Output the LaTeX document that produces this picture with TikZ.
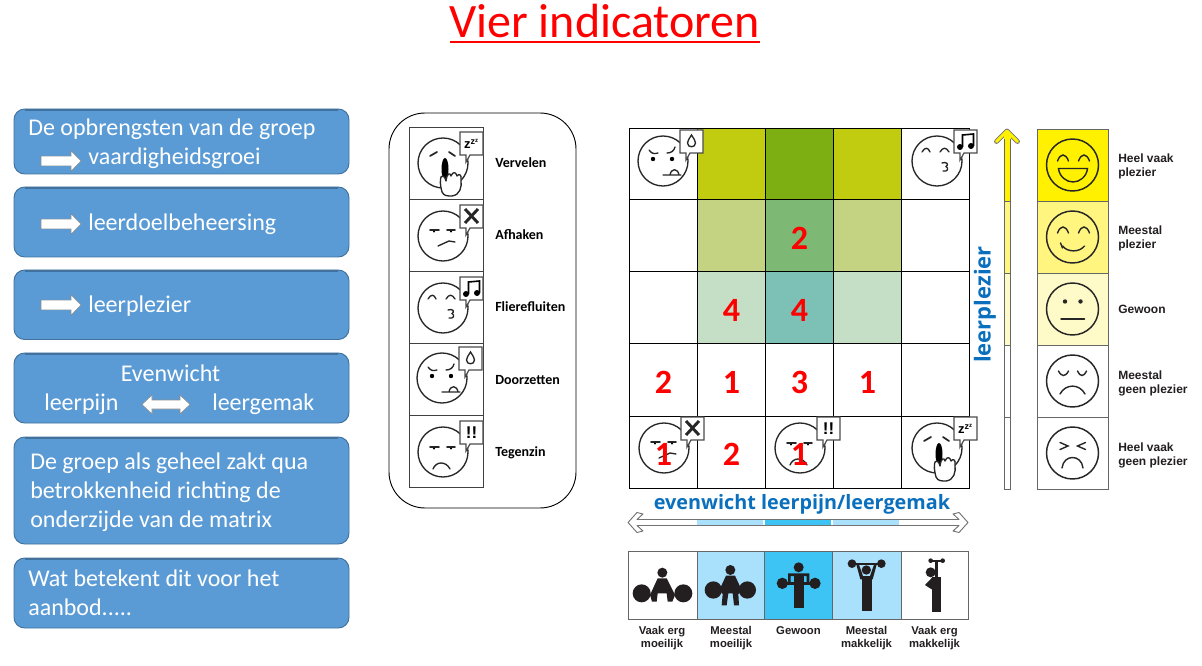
\documentclass[tikz,border=0pt]{standalone}
\usepackage{fontspec}
\setmainfont{Carlito}
\newfontfamily\arialf{Liberation Sans}
\newfontfamily\opensf{Open Sans}
\newcommand{\fpx}[1]{\fontsize{\dimexpr #1pt*3/4\relax}{\dimexpr #1pt\relax}\selectfont}
\definecolor{boxblue}{HTML}{5B9BD5}
\definecolor{boxedge}{HTML}{41719C}
\definecolor{olive}{HTML}{C1CB10}
\definecolor{midgreen}{HTML}{7DAE12}
\definecolor{paleolive}{HTML}{C4D381}
\definecolor{softgreen}{HTML}{7DB875}
\definecolor{palegreen}{HTML}{C5DEC6}
\definecolor{teal2}{HTML}{7DC1B6}
\definecolor{lightblue}{HTML}{A9E0FB}
\definecolor{strongblue}{HTML}{3EC4F4}
\definecolor{yel1}{HTML}{FFF100}
\definecolor{yel2}{HTML}{FFF57F}
\definecolor{yel3}{HTML}{FFFBC8}
\definecolor{headblue}{HTML}{0A70BE}
\definecolor{inkc}{HTML}{231F20}
\tikzset{
  x=0.75pt,y=-0.75pt,
  bluebox/.style={fill=boxblue,draw=boxedge,line width=0.7pt,rounded corners=8pt},
  ltext/.style={anchor=base west,inner sep=0pt,text=white,font=\fpx{24}},
  ctext/.style={anchor=base,inner sep=0pt,text=white,font=\fpx{24}},
  num/.style={inner sep=0pt,text=red,font=\fpx{34}\bfseries},
  emolabel/.style={anchor=base west,inner sep=0pt,font=\fpx{14}\bfseries},
  scalelabel/.style={anchor=base west,inner sep=0pt,align=left,text=inkc,font=\arialf\fpx{12}\bfseries},
  barlabel/.style={anchor=base,inner sep=0pt,text=inkc,font=\arialf\fpx{11.3}\bfseries},
  gridline/.style={draw=black,line width=0.75pt},
  facel/.style={draw=black!85,line width=1pt},
  sm/.style={draw=black!85,line width=1pt,line cap=round},
  scaleedge/.style={draw=black!60,line width=0.7pt},
  pics/whitearrow/.style={code={
    \draw[fill=white,draw=black!45,line width=0.4pt] (0,-4.8)--(30,-4.8)--(30,-10.2)--(40,0)--(30,10.2)--(30,4.8)--(0,4.8)--cycle;}},
  pics/face/.style={code={\draw[facel,fill=white] (0,0) circle (25);}},
  pics/bubble/.style={code={
    \draw[draw=black!70,fill=white,line width=0.9pt] (17,-31)--(40,-31)--(40,-8)--(27,-8)--(23,-1)--(23,-8)--(17,-8)--cycle;}},
  pics/vervelen/.style={code={
    \pic {face};
    \draw[sm,line width=1.3pt] (-13,-7)--(-6,-11) (6,-11)--(12,-7);
    \fill[black] (2,6) ellipse (3.5 and 11);
    \draw[sm,fill=white,line join=round] (-1,29) .. controls (-3,22) and (-3,17) .. (-2,14) .. controls (0,12) and (2,14) .. (3,18) .. controls (4,10) and (7,9) .. (8,13) .. controls (10,8) and (13,9) .. (14,13) .. controls (16,10) and (19,12) .. (18,17) .. controls (19,24) and (17,32) .. (9,33) .. controls (4,33) and (1,33) .. (-1,29) -- cycle;
    \pic {bubble};
    \node[inner sep=0pt,font=\arialf\fpx{13}\bfseries] (zz) at (28,-19) {z\raisebox{3pt}{\fpx{9}z}\raisebox{5pt}{\fpx{6}z}};
  }},
  pics/afhaken/.style={code={
    \pic {face};
    \draw[sm,line width=1.2pt] (-13,-6)--(-4,-6) (4,-6)--(12,-6);
    \fill (-9,-4.5) circle (1.2) (8,-4.5) circle (1.2);
    \draw[sm] (-5,10)--(6,5)--(12,6);
    \pic {bubble};
    \draw[line width=2.2pt,black!85] (22,-27)--(35,-13) (35,-27)--(22,-13);
  }},
  pics/fluiten/.style={code={
    \pic {face};
    \draw[sm] (-15,-9) .. controls (-12,-14) and (-9,-14) .. (-7,-9);
    \draw[sm] (3,-9) .. controls (6,-14) and (9,-14) .. (12,-9);
    \draw[sm] (5,2) .. controls (10,0) and (12,4) .. (9,5.5) .. controls (12,7) and (11,11) .. (6,10);
    \pic {bubble};
    \fill (23,-14) circle (3) (34,-15) circle (3);
    \draw[line width=1.2pt] (25.5,-14)--(25.5,-26)--(36.5,-27)--(36.5,-15);
  }},
  pics/doorzetten/.style={code={
    \pic {face};
    \draw[sm] (-14,-11) .. controls (-11,-7) and (-9,-7) .. (-5,-8);
    \draw[sm] (4,-8) .. controls (8,-8) and (11,-10) .. (12,-14);
    \fill (-10,-2) circle (2.2) (9,-2) circle (2.2);
    \draw[sm] (0,14)--(18,14) (7,14) .. controls (8,7) and (15,7) .. (16,14);
    \pic {bubble};
    \draw[sm,line width=1pt] (28.5,-26) .. controls (26,-22) and (24.5,-20) .. (24.5,-18) .. controls (24.5,-13) and (32.5,-13) .. (32.5,-18) .. controls (32.5,-20) and (31,-22) .. (28.5,-26) -- cycle;
  }},
  pics/tegenzin/.style={code={
    \pic {face};
    \draw[sm,line width=1.2pt] (-13,-5)--(-4,-5) (4,-5)--(12,-5);
    \fill (-9,-3.5) circle (1.2) (8,-3.5) circle (1.2);
    \draw[sm] (-10,17) .. controls (-7,9) and (3,9) .. (7,17);
    \pic {bubble};
    \node[inner sep=0pt,font=\arialf\fpx{17}\bfseries] (ex) at (28.5,-19.5) {!!};
  }},
  pics/bigface/.style={code={\draw[facel,line width=1.1pt] (0,0) circle (26);}},
  pics/arceyes/.style={code={
    \draw[sm,line width=1.05pt] (-15,-4) .. controls (-12,-12) and (-7,-12) .. (-4,-4);
    \draw[sm,line width=1.05pt] (6,-4) .. controls (9,-12) and (14,-12) .. (17,-4);
  }}
}
\begin{document}
\begin{tikzpicture}
\useasboundingbox (0,0) rectangle (1202,666);
\fill[white] (0,0) rectangle (1202,666);

% title
\node[anchor=base,inner sep=0pt,text=red,font=\fpx{48}] (title) at (604.5,37.5) {Vier indicatoren};
\draw[draw=red,line width=1.5pt] (450,42)--(760,42);

% left boxes
\draw[bluebox] (14,109) rectangle (349,174);
\draw[bluebox] (14,187) rectangle (349,257);
\draw[bluebox] (14,270) rectangle (349,339.5);
\draw[bluebox] (14,353) rectangle (349,423);
\draw[bluebox] (14,437) rectangle (349,544);
\draw[bluebox] (14,558) rectangle (349,628);
\foreach \yy in {109,187,270,353,437,558}
  \draw[boxedge,line width=1.2pt] (25,\yy+1.2)--(338,\yy+1.2);

\node[ltext] (b1a) at (28,135.5) {De opbrengsten van de groep};
\node[ltext] (b1b) at (88,164.5) {vaardigheidsgroei};
\pic at (41,161) {whitearrow};
\node[ltext] (b2) at (88,230.5) {leerdoelbeheersing};
\pic at (41,224) {whitearrow};
\node[ltext] (b3) at (88,312.5) {leerplezier};
\pic at (41,305) {whitearrow};
\node[ctext] (b4a) at (170.5,381) {Evenwicht};
\node[ltext] (b4b) at (44,410) {leerpijn};
\node[ltext] (b4c) at (212,410) {leergemak};
\draw[fill=white,draw=black!45,line width=0.4pt] (142,404.5)--(152,395)--(152,400)--(180,400)--(180,395)--(190,404.5)--(180,414)--(180,409)--(152,409)--(152,414)--cycle;
\node[ltext] (b5a) at (30,469) {De groep als geheel zakt qua};
\node[ltext] (b5b) at (30,498) {betrokkenheid richting de};
\node[ltext] (b5c) at (30,527) {onderzijde van de matrix};
\node[ltext] (b6a) at (28,586) {Wat betekent dit voor het};
\node[ltext] (b6b) at (28,615) {aanbod.....};

% legend
\draw[black,line width=0.7pt,rounded corners=27pt] (389,113) rectangle (576,508);
\foreach \a/\b in {127/199,199/271,271/343,343/415,415/487}
  \draw[black!75,line width=0.7pt] (409,\a) rectangle (483.5,\b);
\pic at (443,163) {vervelen};
\pic at (443,236) {afhaken};
\pic at (443,308) {fluiten};
\pic at (442,378) {doorzetten};
\pic at (443,452) {tegenzin};
\node[emolabel] (l1) at (495,168) {Vervelen};
\node[emolabel] (l2) at (495,240) {Afhaken};
\node[emolabel] (l3) at (495,312) {Flierefluiten};
\node[emolabel] (l4) at (495,384) {Doorzetten};
\node[emolabel] (l5) at (495,456) {Tegenzin};

% matrix
\fill[olive] (697,128.5) rectangle (765,200);
\fill[midgreen] (765,128.5) rectangle (833,200);
\fill[olive] (833,128.5) rectangle (901,200);
\fill[paleolive] (697,200) rectangle (765,272);
\fill[softgreen] (765,200) rectangle (833,272);
\fill[paleolive] (833,200) rectangle (901,272);
\fill[palegreen] (697,272) rectangle (765,344);
\fill[teal2] (765,272) rectangle (833,344);
\fill[palegreen] (833,272) rectangle (901,344);
\foreach \xx in {629,697,765,833,901,969}
  \draw[gridline] (\xx,128.5)--(\xx,488.5);
\foreach \yy in {128.5,200,272,344,416,488.5}
  \draw[gridline] (629,\yy)--(969,\yy);
\pic at (663,161) {doorzetten};
\pic at (937,161) {fluiten};
\pic at (664,448) {afhaken};
\pic at (800,448) {tegenzin};
\pic at (937,448) {vervelen};
\node[num] (n1) at (799.5,238) {2};
\node[num] (n2) at (731.5,310) {4};
\node[num] (n3) at (799.5,310) {4};
\node[num] (n4) at (663.5,382) {2};
\node[num] (n5) at (731.5,382) {1};
\node[num] (n6) at (799.5,382) {3};
\node[num] (n7) at (867.5,382) {1};
\node[num] (n8) at (663.5,454) {1};
\node[num] (n9) at (731.5,454) {2};
\node[num] (n10) at (799.5,454) {1};

% horizontal scale
\node[anchor=base,inner sep=0pt,text=headblue,font=\opensf\fpx{19.8}\bfseries] (hs) at (802,509) {evenwicht leerpijn/leergemak};
\draw[draw=black!55,fill=white,line width=0.7pt,line join=round] (628,522.5)--(637,512.5)--(643,514)--(637,519.5)--(959,519.5)--(953,514)--(959,512.5)--(968,522.5)--(959,532.5)--(953,531)--(959,525.5)--(637,525.5)--(643,531)--(637,532.5)--cycle;
\fill[lightblue] (697,520)rectangle(763,525);
\fill[strongblue] (765,520)rectangle(831,525);
\fill[lightblue] (833,520)rectangle(899,525);

% effort boxes
\fill[lightblue] (697,551) rectangle (764.5,619);
\fill[strongblue] (764.5,551) rectangle (832.5,619);
\fill[lightblue] (832.5,551) rectangle (901,619);
\foreach \a/\b in {628/697,697/764.5,764.5/832.5,832.5/901,901/968.5}
  \draw[scaleedge] (\a,551) rectangle (\b,619);
\begin{scope}[shift={(620,490)},x=0.25pt,y=-0.25pt,fill=inkc]
  % figure 1
  \fill (127,248) circle (15) (65,310) circle (27) (190,310) circle (27);
  \fill (113,265)--(140,265)--(165,315)--(157,335)--(143,335)--(140,310)--(113,310)--(110,335)--(96,335)--(90,315)--cycle;
  % figure 2
  \fill (331,240) circle (15) (280,300) circle (26) (382,300) circle (26);
  \fill (318,257)--(345,257)--(365,300)--(355,312)--(357,346)--(342,346)--(338,310)--(325,310)--(320,346)--(305,346)--(308,312)--(298,300)--cycle;
  % figure 3
  \fill (536,232) circle (15) (487,280) circle (17) (585,280) circle (17);
  \fill (487,276) rectangle (585,284);
  \fill (521,252) rectangle (551,353);
  \fill (504,250) rectangle (568,258) (504,250) rectangle (512,280) (560,250) rectangle (568,280);
  % figure 4
  \fill (739,240) circle (14) (696,221) circle (13) (784,221) circle (13);
  \fill (696,218) rectangle (784,225);
  \fill (727,262) rectangle (756,362);
  \fill (709,224)--(717,224)--(729,258)--(750,258)--(762,224)--(770,224)--(758,268)--(721,268)--cycle;
  % figure 5
  \fill (932,247) circle (15) (932,212) circle (7) (968,212) circle (7);
  \fill (930,210) rectangle (970,215);
  \fill (946,212) rectangle (954,262);
  \fill (937,262) rectangle (963,365);
  \fill (915,285)--(937,262)--(945,262)--(945,300)--(935,298)--cycle;
\end{scope}
\node[barlabel] (c1a) at (662,634.5) {Vaak erg};
\node[barlabel] (c1b) at (662,647.5) {moeilijk};
\node[barlabel] (c2a) at (731,634.5) {Meestal};
\node[barlabel] (c2b) at (731,647.5) {moeilijk};
\node[barlabel] (c3a) at (798.5,634.5) {Gewoon};
\node[barlabel] (c4a) at (866.5,634.5) {Meestal};
\node[barlabel] (c4b) at (866.5,647.5) {makkelijk};
\node[barlabel] (c5a) at (934.5,634.5) {Vaak erg};
\node[barlabel] (c5b) at (934.5,647.5) {makkelijk};

% vertical scale
\node[inner sep=0pt,rotate=90,text=headblue,font=\opensf\fpx{22}\bfseries] (vs) at (985,304.5) {leerplezier};
\draw[line cap=round,line join=round,draw=black!55,line width=3.6pt] (996.5,141.5)--(1007,131)--(1017.5,141.5);
\draw[line cap=round,line join=round,draw=yel1,line width=2.3pt] (996.5,141.5)--(1007,131)--(1017.5,141.5);
\fill[yel1] (1004,133) rectangle (1010.5,201);
\fill[yel2] (1004,201) rectangle (1010.5,273);
\fill[yel3] (1004,273) rectangle (1010.5,345);
\draw[scaleedge] (1004,139)--(1004,489)--(1010.5,489)--(1010.5,139);
\draw[scaleedge] (1004,201)--(1010.5,201) (1004,273)--(1010.5,273) (1004,345)--(1010.5,345) (1004,417)--(1010.5,417);

% plezier boxes
\fill[yel1] (1037,129.5) rectangle (1108.5,201);
\fill[yel2] (1037,201) rectangle (1108.5,273.5);
\fill[yel3] (1037,273.5) rectangle (1108.5,345.5);
\foreach \a/\b in {129.5/201,201/273.5,273.5/345.5,345.5/417.5,417.5/489}
  \draw[scaleedge] (1037,\a) rectangle (1108.5,\b);
\begin{scope}[shift={(1072.5,165)}]
  \pic {bigface}; \pic {arceyes};
  \draw[sm,line width=1.05pt] (-14,3.5)--(15,3.5) .. controls (14,12) and (7,17) .. (0.5,17) .. controls (-6,17) and (-13,12) .. (-14,3.5) -- cycle;
\end{scope}
\begin{scope}[shift={(1072.5,237)}]
  \pic {bigface}; \pic {arceyes};
  \draw[sm,line width=1.05pt] (-10,9) .. controls (-5,15.5) and (7,15.5) .. (12,9);
  \draw[sm,line width=1.05pt] (-12,6)--(-10,11);
\end{scope}
\begin{scope}[shift={(1072.5,309)}]
  \pic {bigface};
  \fill[black!85] (-7.5,-7.5) circle (2.2) (8,-7.5) circle (2.2);
  \draw[sm,line width=1.05pt] (-11.5,10)--(12,10);
\end{scope}
\begin{scope}[shift={(1072.5,381)}]
  \pic {bigface};
  \draw[sm,line width=1.05pt] (-14,-10) .. controls (-11,-4) and (-7,-4) .. (-4,-10);
  \draw[sm,line width=1.05pt] (5,-10) .. controls (8,-4) and (11,-4) .. (14,-10);
  \draw[sm,line width=1.05pt] (-12.5,13) .. controls (-7,2.5) and (7,2.5) .. (12.5,13);
\end{scope}
\begin{scope}[shift={(1072.5,453)}]
  \pic {bigface};
  \draw[sm,line width=1.05pt] (-12.5,-10.5)--(-4.5,-7)--(-12.5,-3.5);
  \draw[sm,line width=1.05pt] (13,-10.5)--(5,-7)--(13,-3.5);
  \draw[sm,line width=1.05pt] (-10.5,15) .. controls (-9,1) and (9,1) .. (10.5,15);
\end{scope}
\node[scalelabel] (r1a) at (1118,163) {Heel vaak};
\node[scalelabel] (r1b) at (1118,177) {plezier};
\node[scalelabel] (r2a) at (1118,235) {Meestal};
\node[scalelabel] (r2b) at (1118,249) {plezier};
\node[scalelabel] (r3a) at (1118,314) {Gewoon};
\node[scalelabel] (r4a) at (1118,379) {Meestal};
\node[scalelabel] (r4b) at (1118,393) {geen plezier};
\node[scalelabel] (r5a) at (1118,451) {Heel vaak};
\node[scalelabel] (r5b) at (1118,465) {geen plezier};
\end{tikzpicture}
\end{document}
